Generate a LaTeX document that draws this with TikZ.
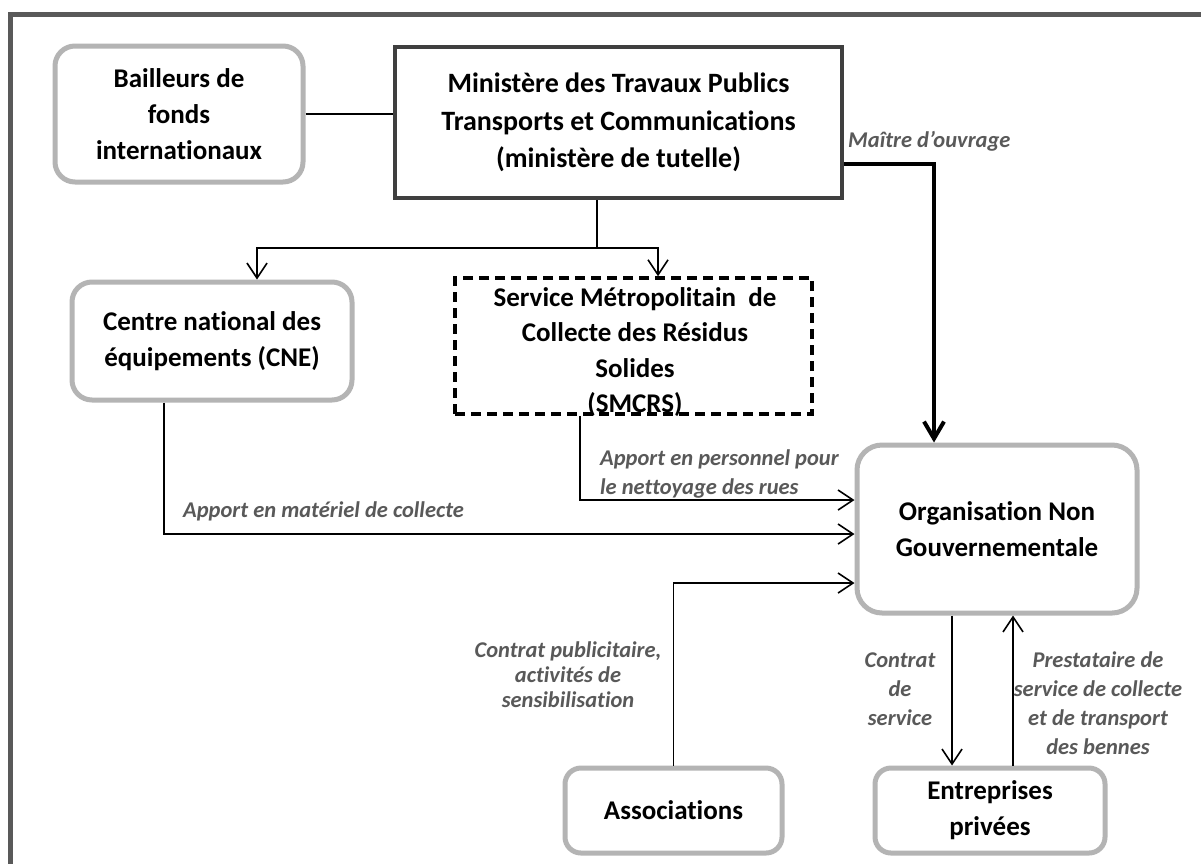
\documentclass[tikz,border=0pt]{standalone}
\usepackage{fontspec}
\setmainfont{Carlito}[Ligatures=NoCommon]
\usetikzlibrary{arrows.meta,calc}
\definecolor{framegray}{HTML}{595959}
\definecolor{boxgray}{HTML}{B4B4B4}
\definecolor{labelgray}{HTML}{595959}
\definecolor{mingray}{HTML}{3F3F3F}
\begin{document}
\begin{tikzpicture}[x=1pt,y=-1pt,
  graybox/.style={draw=boxgray,line width=5pt,rounded corners=20pt,fill=white,align=center,font=\bfseries\fontsize{27}{36}\selectfont,inner sep=0pt},
  minbox/.style={draw=mingray,line width=3.5pt,fill=white,align=center,font=\bfseries\fontsize{28}{37.5}\selectfont,inner sep=0pt},
  dashbox/.style={draw=black,line width=3.5pt,dash pattern=on 10pt off 6pt,inner sep=0pt},
  boxtext/.style={align=center,font=\bfseries\fontsize{27}{35.5}\selectfont,inner sep=0pt},
  lab/.style={text=labelgray,font=\bfseries\itshape\fontsize{22.5}{29}\selectfont,inner sep=0pt},
  conn/.style={line width=1.6pt,-{Straight Barb[length=15pt,width=20pt,line width=1.6pt]}},
  plainline/.style={line width=1.6pt},
  heavy/.style={line width=4pt,-{Straight Barb[length=17pt,width=20pt,line width=4pt]}},
]
\useasboundingbox (0,0) rectangle (1201,863);
\clip (0,0) rectangle (1201,863);
\fill[white] (0,0) rectangle (1201,863);
\draw[framegray,line width=5pt] (10,14) rectangle (1240,900);

% boxes
\node[graybox,minimum width=248pt,minimum height=136pt] (bail) at (179,114) {Bailleurs de\\fonds\\internationaux};
\node[minbox,minimum width=447pt,minimum height=151pt] (min) at (618.5,122.5) {Ministère des Travaux Publics\\Transports et Communications\\(ministère de tutelle)};
\node[graybox,minimum width=280pt,minimum height=118pt] (cne) at (212,341) {Centre national des\\équipements (CNE)};
\node[dashbox,minimum width=357pt,minimum height=136pt] (smcrs) at (633.5,346) {};
\node[boxtext] (smcrsT) at (635,352) {Service Métropolitain\ \ de\\Collecte des Résidus\\Solides\\(SMCRS)};
\node[graybox,minimum width=280pt,minimum height=168pt,rounded corners=25pt] (ong) at (997,529) {Organisation Non\\Gouvernementale};
\node[graybox,minimum width=217pt,minimum height=85pt,rounded corners=16pt] (asso) at (673.5,810.5) {Associations};
\node[graybox,minimum width=230pt,minimum height=85pt,rounded corners=16pt] (ent) at (990,810.5) {Entreprises\\privées};

% connectors
\coordinate (split) at (597,248);
\draw[plainline] (bail.east) -- (bail.east -| min.west);
\draw[plainline] (split |- min.south) -- (split);
\draw[conn] (split) -| ([xshift=45pt]cne.north);
\draw[conn] (split) -| ([xshift=24.5pt]smcrs.north);
\draw[heavy] ([yshift=-41.5pt]min.east) -| ([xshift=-63pt]ong.north);
\draw[conn] ([xshift=-48pt]cne.south) |- ([yshift=-5pt]ong.west);
\draw[conn] ([xshift=-53.5pt]smcrs.south) |- ([yshift=29pt]ong.west);
\draw[conn] (asso.north) |- ([yshift=-54pt]ong.west);
\draw[conn] ([xshift=-45pt]ong.south) -- ([xshift=-45pt]ong.south |- ent.north);
\draw[conn] ([xshift=23pt]ent.north) -- ([xshift=23pt]ent.north |- ong.south);

% labels
\node[lab,anchor=west] (lmo) at (848,141) {Maître d’ouvrage};
\node[lab,anchor=west] (lmat) at (183,511) {Apport en matériel de collecte};
\node[lab,anchor=west,align=left] (lpers) at (600,473.5) {Apport en personnel pour\\le nettoyage des rues};
\node[lab,align=center,font=\bfseries\itshape\fontsize{22.5}{25}\selectfont] (lpub) at (568,675) {Contrat publicitaire,\\activités de\\sensibilisation};
\node[lab,align=center] (lcs) at (900,689) {Contrat\\de\\service};
\node[lab,align=center] (lpre) at (1098,703.5) {Prestataire de\\service de collecte\\et de transport\\des bennes};
\end{tikzpicture}
\end{document}
